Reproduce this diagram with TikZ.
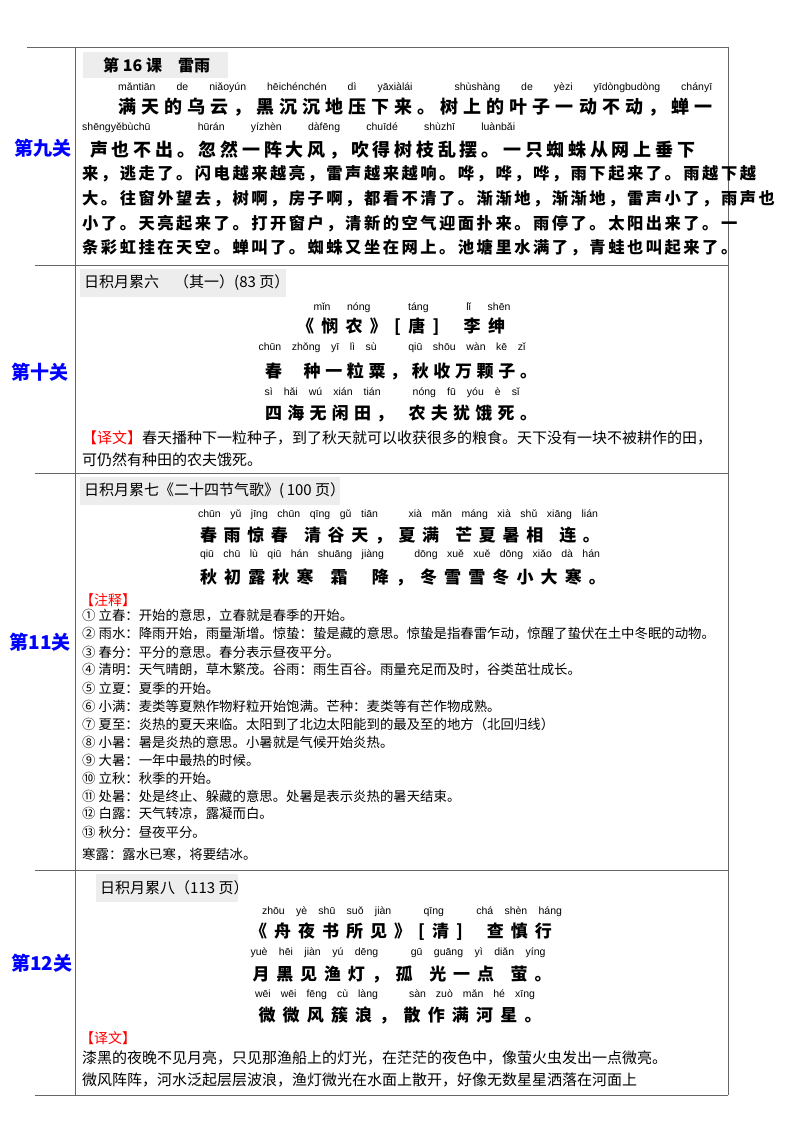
\documentclass[tikz,border=0pt]{standalone}
\usepackage{fontspec}
\setmainfont{Noto Sans CJK SC}
\newfontfamily\py{Liberation Sans}
\newcommand{\spread}[2]{\makebox[#1pt][s]{#2}}
\begin{document}
\begin{tikzpicture}[x=1pt,y=-1pt,
  rule/.style={draw=black!60,line width=0.8pt},
  lvl/.style={text=blue,font=\fontsize{19}{19}\selectfont\bfseries},
  hdr/.style={fill=black!7,draw=none},
  hdrtxt/.style={anchor=west,font=\fontsize{15}{15}\selectfont,inner sep=0},
  pyn/.style={font=\py\fontsize{10.5}{10.5}\selectfont,inner sep=0},
  big/.style={font=\fontsize{18}{18}\selectfont\bfseries,inner sep=0,anchor=west},
  bigs/.style={font=\fontsize{16.3}{16.3}\selectfont\bfseries,inner sep=0,anchor=west},
  poem/.style={font=\fontsize{17}{17}\selectfont\bfseries,inner sep=0},
  note/.style={anchor=west,font=\fontsize{13.4}{13.4}\selectfont,inner sep=0},
  trans/.style={anchor=west,font=\fontsize{15}{15}\selectfont,inner sep=0},
  red/.style={anchor=west,text=red,font=\fontsize{14}{14}\selectfont,inner sep=0}]
\useasboundingbox (0,0) rectangle (800,1131);
% table lines
\draw[rule] (27,47) -- (728,47);
\draw[rule] (35,265) -- (728,265);
\draw[rule] (35,473) -- (728,473);
\draw[rule] (35,870) -- (728,870);
\draw[rule] (35,1095) -- (728,1095);
\draw[rule] (75,47) -- (75,1095);
\draw[rule] (728,47) -- (728,1095);
% left labels
\node[lvl] (l9) at (43,148) {第九关};
\node[lvl] (l10) at (40,372) {第十关};
\node[lvl] (l11) at (40,642) {第11关};
\node[lvl] (l12) at (42,963) {第12关};
% section 1
\fill[hdr] (83,52) rectangle (228,78);
\node[hdrtxt,font=\fontsize{16}{16}\selectfont\bfseries] (h1) at (103,65) {第 16 课\quad 雷雨};
\node[pyn,anchor=west] (p1) at (118,88) {\spread{594}{mǎntiān de niǎoyún hēichénchén dì yāxiàlái \qquad shùshàng de yèzi yīdòngbudòng chányī}};
\node[big] (t1) at (118,107) {\spread{594}{满 天 的 乌 云 ， 黑 沉 沉 地 压 下 来 。 树 上 的 叶 子 一 动 不 动 ， 蝉 一}};
\node[pyn,anchor=west] (p2) at (82,128) {\spread{433}{shēngyěbùchū \qquad hūrán yízhèn dàfēng chuīdé shùzhī luànbǎi}};
\node[big] (t2) at (90,150) {\spread{605}{声 也 不 出 。 忽 然 一 阵 大 风 ， 吹 得 树 枝 乱 摆 。 一 只 蜘 蛛 从 网 上 垂 下}};
\node[bigs] (t3) at (82,174) {\spread{608}{来 ， 逃 走 了 。 闪 电 越 来 越 亮 ， 雷 声 越 来 越 响 。 哗 ， 哗 ， 哗 ， 雨 下 起 来 了 。 雨 越 下 越}};
\node[bigs] (t4) at (82,199) {\spread{630}{大 。 往 窗 外 望 去 ， 树 啊 ， 房 子 啊 ， 都 看 不 清 了 。 渐 渐 地 ， 渐 渐 地 ， 雷 声 小 了 ， 雨 声 也}};
\node[bigs] (t5) at (82,224) {\spread{630}{小 了 。 天 亮 起 来 了 。 打 开 窗 户 ， 清 新 的 空 气 迎 面 扑 来 。 雨 停 了 。 太 阳 出 来 了 。 一}};
\node[bigs] (t6) at (82,248) {\spread{630}{条 彩 虹 挂 在 天 空 。 蝉 叫 了 。 蜘 蛛 又 坐 在 网 上 。 池 塘 里 水 满 了 ， 青 蛙 也 叫 起 来 了 。}};
% section 2
\fill[hdr] (80,269) rectangle (286,297);
\node[hdrtxt] (h2) at (84,283) {日积月累六\quad（其一）(83 页）};
\node[pyn] (q1) at (412,308) {\spread{197}{mǐn nóng \qquad táng \qquad lǐ shēn}};
\node[poem] (s1) at (401,327) {\spread{208}{《 悯 农 》 [ 唐 ] \quad 李 绅}};
\node[pyn] (q2) at (392,348) {\spread{267}{chūn zhǒng yī lì sù \qquad qiū shōu wàn kē zǐ}};
\node[poem] (s2) at (401,371) {\spread{272}{春 \quad 种 一 粒 粟 ， 秋 收 万 颗 子 。}};
\node[pyn] (q3) at (392,393) {\spread{255}{sì hǎi wú xián tián \qquad nóng fū yóu è sǐ}};
\node[poem] (s3) at (401,414) {\spread{272}{四 海 无 闲 田 ， \; 农 夫 犹 饿 死 。}};
\node[trans] (y1) at (82,438) {\textcolor{red}{【译文】}春天播种下一粒种子，到了秋天就可以收获很多的粮食。天下没有一块不被耕作的田，};
\node[trans] (y2) at (82,460) {可仍然有种田的农夫饿死。};
% section 3
\fill[hdr] (80,477) rectangle (340,505);
\node[hdrtxt] (h3) at (84,491) {日积月累七《二十四节气歌》(\,100 页）};
\node[pyn] (r1) at (398,515) {\spread{400}{chūn yǔ jīng chūn qīng gǔ tiān \qquad xià mǎn máng xià shǔ xiāng lián}};
\node[poem] (u1) at (400,535) {\spread{400}{春 雨 惊 春 \, 清 谷 天 ， 夏 满 \, 芒 夏 暑 相 \, 连 。}};
\node[pyn] (r2) at (400,555) {\spread{400}{qiū chū lù qiū hán shuāng jiàng \qquad dōng xuě xuě dōng xiǎo dà hán}};
\node[poem] (u2) at (403,577) {\spread{406}{秋 初 露 秋 寒 \, 霜 \quad 降 ， 冬 雪 雪 冬 小 大 寒 。}};
\node[red] (zs) at (80,600) {【注释】};
\node[note] (n1) at (82,616) {① 立春：开始的意思，立春就是春季的开始。};
\node[note] (n2) at (82,634) {② 雨水：降雨开始，雨量渐增。惊蛰：蛰是藏的意思。惊蛰是指春雷乍动，惊醒了蛰伏在土中冬眠的动物。};
\node[note] (n3) at (82,652) {③ 春分：平分的意思。春分表示昼夜平分。};
\node[note] (n4) at (82,670) {④ 清明：天气晴朗，草木繁茂。谷雨：雨生百谷。雨量充足而及时，谷类茁壮成长。};
\node[note] (n5) at (82,688) {⑤ 立夏：夏季的开始。};
\node[note] (n6) at (82,706) {⑥ 小满：麦类等夏熟作物籽粒开始饱满。芒种：麦类等有芒作物成熟。};
\node[note] (n7) at (82,724) {⑦ 夏至：炎热的夏天来临。太阳到了北边太阳能到的最及至的地方（北回归线）};
\node[note] (n8) at (82,742) {⑧ 小暑：暑是炎热的意思。小暑就是气候开始炎热。};
\node[note] (n9) at (82,760) {⑨ 大暑：一年中最热的时候。};
\node[note] (n10) at (82,778) {⑩ 立秋：秋季的开始。};
\node[note] (n11) at (82,796) {⑪ 处暑：处是终止、躲藏的意思。处暑是表示炎热的暑天结束。};
\node[note] (n12) at (82,814) {⑫ 白露：天气转凉，露凝而白。};
\node[note] (n13) at (82,832) {⑬ 秋分：昼夜平分。};
\node[note] (n14) at (82,855) {寒露：露水已寒，将要结冰。};
% section 4
\fill[hdr] (96,874) rectangle (238,902);
\node[hdrtxt] (h4) at (100,888) {日积月累八（113 页）};
\node[pyn] (w1) at (412,912) {\spread{300}{zhōu yè shū suǒ jiàn \qquad qīng \qquad chá shèn háng}};
\node[poem] (v1) at (401,932) {\spread{302}{《 舟 夜 书 所 见 》 [ 清 ] \quad 查 慎 行}};
\node[pyn] (w2) at (398,953) {\spread{295}{yuè hēi jiàn yú dēng \qquad gū guāng yì diǎn yíng}};
\node[poem] (v2) at (402,974) {\spread{299}{月 黑 见 渔 灯 ， 孤 \, 光 一 点 \, 萤 。}};
\node[pyn] (w3) at (395,995) {\spread{280}{wēi wēi fēng cù làng \qquad sàn zuò mǎn hé xīng}};
\node[poem] (v3) at (400,1015) {\spread{283}{微 微 风 簇 浪 ， 散 作 满 河 星 。}};
\node[red] (yw) at (80,1038) {【译文】};
\node[trans] (x1) at (82,1058) {漆黑的夜晚不见月亮，只见那渔船上的灯光，在茫茫的夜色中，像萤火虫发出一点微亮。};
\node[trans] (x2) at (82,1080) {微风阵阵，河水泛起层层波浪，渔灯微光在水面上散开，好像无数星星洒落在河面上};
\end{tikzpicture}
\end{document}
